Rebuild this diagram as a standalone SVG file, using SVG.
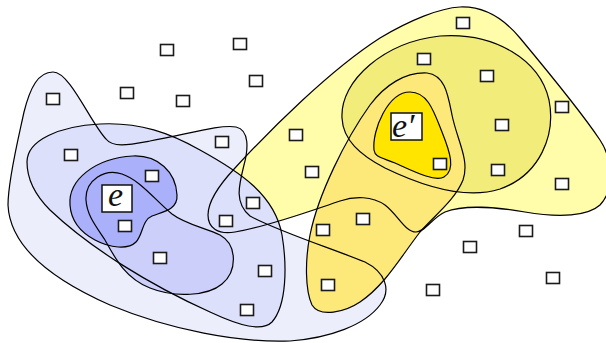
<svg xmlns="http://www.w3.org/2000/svg" xmlns:xlink="http://www.w3.org/1999/xlink" width="606" height="343" viewBox="0 0 606 343">
<style>
.o{fill:none;stroke:#000;stroke-width:1.2}
.v{fill:#fff;stroke:#1a1a1a;stroke-width:1.6}
.lb{fill:#fff;stroke:#111;stroke-width:1.5}
.t{font-family:"Liberation Serif","DejaVu Serif",serif;font-style:italic;font-size:34px;fill:#111}
</style>
<defs>
<path id="pB1" d="M53,72 C70,72 90,122 106,139 C113,148 128,145 150,141 C185,135 220,124 236,127 C250,130 248,150 244,165 C239,185 234,203 250,216 C275,230 330,248 365,262 C385,272 392,290 380,305 C365,325 330,338 290,341 C240,343 170,330 110,305 C60,283 10,250 8,205 C8,180 18,140 24,112 C30,88 38,72 53,72 Z"/>
<path id="pB2" d="M27,162 C27,140 60,126 100,124 C140,122 170,133 200,150 C240,172 275,195 282,235 C287,265 287,305 272,322 C262,332 240,326 210,312 C150,285 90,248 50,210 C35,195 27,180 27,162 Z"/>
<path id="pB3" d="M86,200 C85,180 105,168 122,174 C140,180 155,200 172,214 C185,224 205,228 220,235 C238,245 237,272 222,284 C208,296 175,298 150,288 C125,278 115,258 105,240 C95,225 87,215 86,200 Z"/>
<path id="pB4" d="M70,205 C68,180 95,158 133,156 C158,155 176,172 177,195 C178,210 162,212 152,216 C142,220 143,235 136,242 C128,250 110,248 95,240 C80,232 71,220 70,205 Z"/>
<path id="pY1" d="M460,7 C485,6 505,20 520,38 C545,68 580,110 600,140 C612,158 615,190 600,205 C588,216 560,218 525,212 C495,207 465,204 445,212 C432,218 425,232 416,232 C405,232 398,215 385,205 C372,196 355,196 340,201 C310,211 270,226 235,232 C218,235 208,228 208,215 C208,200 220,184 235,168 C270,130 330,70 380,38 C410,20 440,8 460,7 Z"/>
<path id="pY2" d="M342,118 C340,80 385,42 440,36 C495,32 540,60 549,100 C556,135 540,175 500,189 C465,200 420,185 385,168 C360,155 343,140 342,118 Z"/>
<path id="pY3" d="M427,73 C445,75 448,95 452,115 C457,140 470,160 463,180 C455,200 435,215 420,232 C400,258 385,285 360,302 C345,312 320,318 312,305 C305,290 305,260 310,235 C318,195 345,140 370,105 C385,85 405,72 427,73 Z"/>
<path id="pY4" d="M374,150 C372,130 388,92 410,92 C428,92 434,112 442,132 C450,152 456,170 444,177 C435,182 415,172 395,163 C380,157 375,157 374,150 Z"/>
</defs>
<g id="fills">
<use xlink:href="#pB1" fill="#eceefb"/>
<use xlink:href="#pY1" fill="#fffcaa"/>
<use xlink:href="#pB2" fill="#dde0fa"/>
<use xlink:href="#pB3" fill="#cbcffa"/>
<use xlink:href="#pB4" fill="#aab0fa"/>
<use xlink:href="#pY2" fill="#f2ec7a"/>
<use xlink:href="#pY3" fill="#fde97a"/>
<use xlink:href="#pY4" fill="#ffe500"/>
</g>
<g id="outlines">
<use xlink:href="#pB1" class="o"/>
<use xlink:href="#pY1" class="o"/>
<use xlink:href="#pB2" class="o"/>
<use xlink:href="#pB3" class="o"/>
<use xlink:href="#pB4" class="o"/>
<use xlink:href="#pY2" class="o"/>
<use xlink:href="#pY3" class="o"/>
<use xlink:href="#pY4" class="o"/>
</g>
<g id="vertices">
<g id="v1"><rect class="v" x="456.5" y="17.5" width="13" height="11"/></g>
<g id="v2"><rect class="v" x="160.5" y="44.5" width="13" height="11"/></g>
<g id="v3"><rect class="v" x="233.5" y="38.5" width="13" height="11"/></g>
<g id="v4"><rect class="v" x="417.5" y="53.5" width="13" height="11"/></g>
<g id="v5"><rect class="v" x="46.5" y="93.5" width="13" height="11"/></g>
<g id="v6"><rect class="v" x="120.5" y="87.5" width="13" height="11"/></g>
<g id="v7"><rect class="v" x="176.5" y="95.5" width="13" height="11"/></g>
<g id="v8"><rect class="v" x="249.5" y="75.5" width="13" height="11"/></g>
<g id="v9"><rect class="v" x="480.5" y="70.5" width="13" height="11"/></g>
<g id="v10"><rect class="v" x="555.5" y="101.5" width="13" height="11"/></g>
<g id="v11"><rect class="v" x="289.5" y="129.5" width="13" height="11"/></g>
<g id="v12"><rect class="v" x="215.5" y="136.5" width="13" height="11"/></g>
<g id="v13"><rect class="v" x="64.5" y="149.5" width="13" height="11"/></g>
<g id="v14"><rect class="v" x="495.5" y="119.5" width="13" height="11"/></g>
<g id="v15"><rect class="v" x="145.5" y="170.5" width="13" height="11"/></g>
<g id="v16"><rect class="v" x="305.5" y="166.5" width="13" height="11"/></g>
<g id="v17"><rect class="v" x="433.5" y="158.5" width="13" height="11"/></g>
<g id="v18"><rect class="v" x="491.5" y="164.5" width="13" height="11"/></g>
<g id="v19"><rect class="v" x="555.5" y="178.5" width="13" height="11"/></g>
<g id="v20"><rect class="v" x="246.5" y="197.5" width="13" height="11"/></g>
<g id="v21"><rect class="v" x="219.5" y="215.5" width="13" height="11"/></g>
<g id="v22"><rect class="v" x="118.5" y="220.5" width="13" height="11"/></g>
<g id="v23"><rect class="v" x="356.5" y="213.5" width="13" height="11"/></g>
<g id="v24"><rect class="v" x="316.5" y="224.5" width="13" height="11"/></g>
<g id="v25"><rect class="v" x="519.5" y="225.5" width="13" height="11"/></g>
<g id="v26"><rect class="v" x="463.5" y="241.5" width="13" height="11"/></g>
<g id="v27"><rect class="v" x="153.5" y="252.5" width="13" height="11"/></g>
<g id="v28"><rect class="v" x="258.5" y="265.5" width="13" height="11"/></g>
<g id="v29"><rect class="v" x="321.5" y="279.5" width="13" height="11"/></g>
<g id="v30"><rect class="v" x="426.5" y="284.5" width="13" height="11"/></g>
<g id="v31"><rect class="v" x="546.5" y="272.5" width="13" height="11"/></g>
<g id="v32"><rect class="v" x="240.5" y="304.5" width="13" height="11"/></g>
</g>
<g id="e">
<rect class="lb" x="102" y="185" width="30" height="27"/>
<text class="t" x="108" y="206">e</text>
</g>
<g id="e-prime">
<rect class="lb" x="391" y="113" width="31" height="27"/>
<text class="t" x="392" y="137">e′</text>
</g>
</svg>
